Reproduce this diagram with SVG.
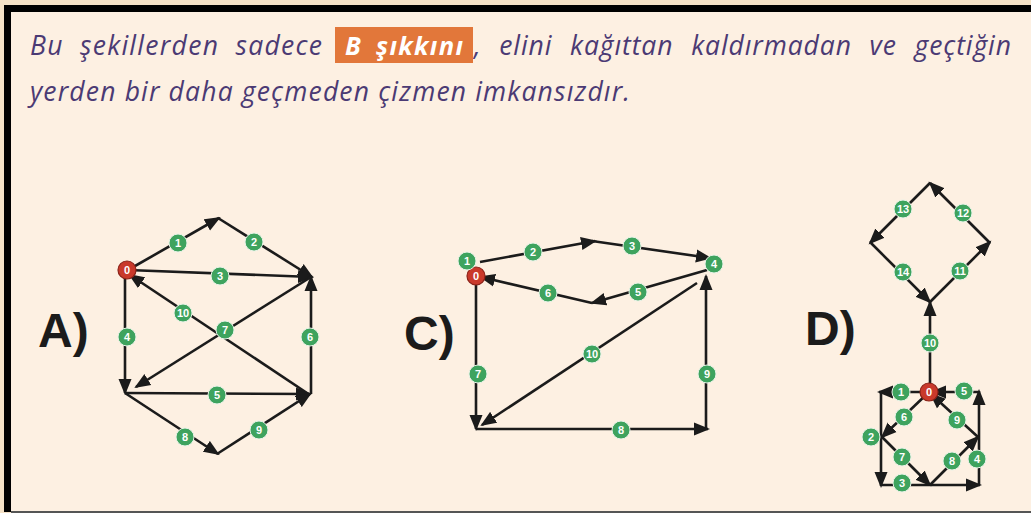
<svg xmlns="http://www.w3.org/2000/svg" width="1031" height="513" viewBox="0 0 1031 513">
<defs>
<marker id="ah" markerUnits="userSpaceOnUse" markerWidth="17" markerHeight="14" refX="14" refY="6.5" orient="auto" viewBox="0 0 17 13">
<path d="M0,0 L16,6.5 L0,13 z" fill="#1b1b1b"/>
</marker>
<style>
.e{stroke:#1b1b1b;stroke-width:2.6;fill:none}
.a{marker-end:url(#ah)}
.g circle{fill:#3ea35e;stroke:#e8f3e8;stroke-width:1}
.r circle{fill:#c9392b;stroke:#8c2218;stroke-width:1.2}
.g text,.r text{font-family:"Liberation Sans",Arial,sans-serif;font-weight:bold;font-size:11px;fill:#fff;text-anchor:middle}
.t{font-family:"Open Sans","Liberation Sans",sans-serif;font-style:italic;font-size:26.5px;fill:#4b3a74}
.lbl{font-family:"Liberation Sans",Arial,sans-serif;font-weight:bold;font-size:48px;fill:#1b1b1b}
</style>
</defs>
<rect x="0" y="0" width="1031" height="513" fill="#f4e1c6"/>
<rect x="4" y="5" width="1027" height="507" fill="#000"/>
<rect x="11" y="12" width="1020" height="499" fill="#fdf0e2"/>
<rect x="11" y="511" width="1020" height="2" fill="#555"/>

<g id="question">
<text class="t" x="30" y="55" textLength="292" lengthAdjust="spacing" word-spacing="8">Bu şekillerden sadece</text>
<rect x="335" y="27" width="138" height="36" fill="#e2773a"/>
<text x="345" y="55" textLength="118" lengthAdjust="spacing" word-spacing="6" style="font-family:'Open Sans','Liberation Sans',sans-serif;font-style:italic;font-weight:bold;font-size:25.5px;fill:#fff">B şıkkını</text>
<text class="t" x="474" y="55" textLength="537" lengthAdjust="spacing" word-spacing="10">, elini kağıttan kaldırmadan ve geçtiğin</text>
<text class="t" x="30" y="101" textLength="600" lengthAdjust="spacing">yerden bir daha geçmeden çizmen imkansızdır.</text>
</g>

<g id="labels">
<text class="lbl" x="38" y="347">A)</text>
<text class="lbl" x="404" y="350">C)</text>
<text class="lbl" x="805" y="345">D)</text>
</g>

<g id="connectors">
<!-- A -->
<line class="e a" x1="128" y1="270" x2="219" y2="218"/>
<line class="e a" x1="218" y1="218" x2="312" y2="277"/>
<line class="e a" x1="128" y1="270" x2="312" y2="277"/>
<line class="e a" x1="125" y1="270" x2="125" y2="393"/>
<line class="e a" x1="125" y1="393" x2="310" y2="394"/>
<line class="e a" x1="311" y1="394" x2="311" y2="277"/>
<line class="e a" x1="311" y1="277" x2="136" y2="387"/>
<line class="e a" x1="125" y1="393" x2="218" y2="454"/>
<line class="e a" x1="217" y1="454" x2="310" y2="394"/>
<line class="e a" x1="310" y1="395" x2="130" y2="275"/>
<!-- C -->
<line class="e a" x1="480" y1="262" x2="595" y2="241"/>
<line class="e a" x1="592" y1="241" x2="710" y2="258"/>
<line class="e a" x1="707" y1="270" x2="592" y2="303"/>
<line class="e a" x1="592" y1="303" x2="481" y2="277"/>
<line class="e a" x1="476" y1="283" x2="476" y2="429"/>
<line class="e a" x1="476" y1="429" x2="708" y2="429"/>
<line class="e a" x1="706" y1="429" x2="706" y2="276"/>
<line class="e a" x1="697" y1="283" x2="482" y2="425"/>
<!-- D top -->
<line class="e a" x1="930" y1="391" x2="930" y2="302"/>
<line class="e a" x1="930" y1="302" x2="990" y2="242"/>
<line class="e a" x1="990" y1="243" x2="930" y2="183"/>
<line class="e a" x1="930" y1="183" x2="870" y2="243"/>
<line class="e a" x1="871" y1="243" x2="930" y2="302"/>
<!-- D bottom -->
<line class="e a" x1="929" y1="392" x2="879" y2="392"/>
<line class="e a" x1="881" y1="392" x2="881" y2="486"/>
<line class="e a" x1="881" y1="485" x2="980" y2="485"/>
<line class="e a" x1="979" y1="485" x2="979" y2="391"/>
<line class="e a" x1="979" y1="392" x2="932" y2="392"/>
<line class="e a" x1="929" y1="392" x2="882" y2="437"/>
<line class="e a" x1="882" y1="437" x2="930" y2="485"/>
<line class="e a" x1="930" y1="485" x2="978" y2="437"/>
<line class="e a" x1="978" y1="437" x2="931" y2="394"/>
</g>

<g id="graphA">
<g class="r"><circle cx="127" cy="270" r="9"/><text x="127" y="274">0</text></g>
<g class="g"><circle cx="178" cy="243" r="9"/><text x="178" y="247">1</text></g>
<g class="g"><circle cx="254" cy="242" r="9"/><text x="254" y="246">2</text></g>
<g class="g"><circle cx="220" cy="276" r="9"/><text x="220" y="280">3</text></g>
<g class="g"><circle cx="127" cy="337" r="9"/><text x="127" y="341">4</text></g>
<g class="g"><circle cx="217" cy="395" r="9"/><text x="217" y="399">5</text></g>
<g class="g"><circle cx="310" cy="337" r="9"/><text x="310" y="341">6</text></g>
<g class="g"><circle cx="225" cy="330" r="9"/><text x="225" y="334">7</text></g>
<g class="g"><circle cx="185" cy="437" r="9"/><text x="185" y="441">8</text></g>
<g class="g"><circle cx="259" cy="430" r="9"/><text x="259" y="434">9</text></g>
<g class="g"><circle cx="183" cy="313" r="9"/><text x="183" y="317">10</text></g>
</g>

<g id="graphC">
<g class="r"><circle cx="476" cy="276" r="9"/><text x="476" y="280">0</text></g>
<g class="g"><circle cx="467" cy="261" r="9"/><text x="467" y="265">1</text></g>
<g class="g"><circle cx="533" cy="252" r="9"/><text x="533" y="256">2</text></g>
<g class="g"><circle cx="632" cy="246" r="9"/><text x="632" y="250">3</text></g>
<g class="g"><circle cx="714" cy="264" r="9"/><text x="714" y="268">4</text></g>
<g class="g"><circle cx="638" cy="292" r="9"/><text x="638" y="296">5</text></g>
<g class="g"><circle cx="548" cy="293" r="9"/><text x="548" y="297">6</text></g>
<g class="g"><circle cx="478" cy="374" r="9"/><text x="478" y="378">7</text></g>
<g class="g"><circle cx="621" cy="430" r="9"/><text x="621" y="434">8</text></g>
<g class="g"><circle cx="707" cy="374" r="9"/><text x="707" y="378">9</text></g>
<g class="g"><circle cx="592" cy="354" r="9"/><text x="592" y="358">10</text></g>
</g>

<g id="graphD">
<g class="r"><circle cx="929" cy="392" r="9"/><text x="929" y="396">0</text></g>
<g class="g"><circle cx="901" cy="392" r="9"/><text x="901" y="396">1</text></g>
<g class="g"><circle cx="871" cy="437" r="9"/><text x="871" y="441">2</text></g>
<g class="g"><circle cx="902" cy="483" r="9"/><text x="902" y="487">3</text></g>
<g class="g"><circle cx="977" cy="459" r="9"/><text x="977" y="463">4</text></g>
<g class="g"><circle cx="964" cy="391" r="9"/><text x="964" y="395">5</text></g>
<g class="g"><circle cx="904" cy="417" r="9"/><text x="904" y="421">6</text></g>
<g class="g"><circle cx="902" cy="457" r="9"/><text x="902" y="461">7</text></g>
<g class="g"><circle cx="952" cy="461" r="9"/><text x="952" y="465">8</text></g>
<g class="g"><circle cx="957" cy="420" r="9"/><text x="957" y="424">9</text></g>
<g class="g"><circle cx="930" cy="343" r="9"/><text x="930" y="347">10</text></g>
<g class="g"><circle cx="960" cy="271" r="9"/><text x="960" y="275">11</text></g>
<g class="g"><circle cx="963" cy="213" r="9"/><text x="963" y="217">12</text></g>
<g class="g"><circle cx="903" cy="209" r="9"/><text x="903" y="213">13</text></g>
<g class="g"><circle cx="903" cy="272" r="9"/><text x="903" y="276">14</text></g>
</g>
</svg>
